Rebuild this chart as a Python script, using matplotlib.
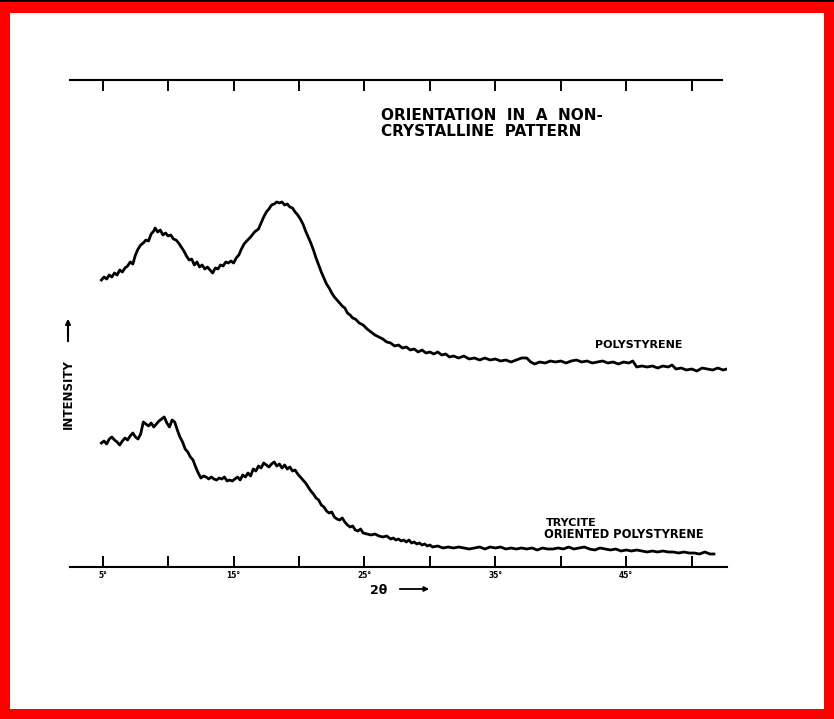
import matplotlib
matplotlib.use("Agg")
import matplotlib.pyplot as plt
from matplotlib.patches import Rectangle

# diffraction angle 2-theta (degrees) and intensity (arbitrary units)
ps_angle = [4.9, 5.1, 5.3, 5.5, 5.7, 5.9, 6.1, 6.3, 6.5, 6.7, 6.9, 7.1, 7.3, 7.5, 7.7, 7.9,
            8.1, 8.3, 8.5, 8.7, 8.9, 9.0, 9.2, 9.4, 9.6, 9.8, 10.0, 10.2, 10.4, 10.6, 10.8,
            11.0, 11.2, 11.4, 11.6, 11.8, 12.0, 12.2, 12.4, 12.6, 12.8, 13.0, 13.2, 13.4,
            13.6, 13.8, 14.0, 14.2, 14.4, 14.6, 14.8, 15.0, 15.2, 15.4, 15.6, 15.8, 16.0,
            16.3, 16.6, 16.9, 17.1, 17.3, 17.5, 17.7, 17.9, 18.1, 18.3, 18.5, 18.7, 18.9,
            19.1, 19.3, 19.5, 19.7, 19.9, 20.1, 20.3, 20.5, 20.7, 20.9, 21.1, 21.3, 21.5,
            21.7, 21.9, 22.1, 22.3, 22.5, 22.7, 22.9, 23.1, 23.3, 23.5, 23.7, 23.9, 24.1,
            24.3, 24.6, 24.9, 25.2, 25.5, 25.8, 26.1, 26.4, 26.7, 27.0, 27.3, 27.6, 27.9,
            28.2, 28.5, 28.8, 29.1, 29.4, 29.7, 30.0, 30.3, 30.6, 30.9, 31.2, 31.5, 31.8,
            32.2, 32.6, 33.0, 33.4, 33.8, 34.2, 34.6, 35.0, 35.4, 35.8, 36.2, 36.6, 37.0,
            37.4, 37.7, 38.0, 38.4, 38.8, 39.2, 39.6, 40.0, 40.4, 40.8, 41.2, 41.6, 42.0,
            42.4, 42.8, 43.2, 43.6, 44.0, 44.4, 44.8, 45.2, 45.5, 45.8, 46.2, 46.6, 47.0,
            47.4, 47.8, 48.2, 48.5, 48.8, 49.2, 49.6, 50.0, 50.4, 50.8, 51.2, 51.6, 52.0,
            52.4, 52.7]
ps_intensity = [287, 290, 288, 292, 290, 294, 292, 297, 295, 299, 301, 305, 303, 312, 318, 322,
                324, 327, 326, 333, 336, 339, 335, 337, 332, 334, 331, 332, 328, 327, 324,
                320, 316, 311, 307, 308, 302, 305, 300, 302, 298, 300, 297, 294,
                299, 298, 302, 301, 305, 304, 306, 304, 309, 312, 318, 323, 326,
                330, 335, 338, 344, 350, 355, 358, 362, 363, 365, 364, 365, 362,
                363, 360, 359, 355, 352, 348, 343, 336, 330, 324, 317, 309, 302,
                295, 289, 283, 279, 274, 270, 267, 264, 261, 259, 254, 252, 249,
                248, 244, 242, 238, 235, 232, 230, 228, 225, 224, 221, 222, 219,
                220, 217, 218, 215, 217, 214, 215, 213, 215, 212, 213, 210, 211,
                209, 211, 208, 209, 207, 209, 207, 208, 206, 207, 205, 207, 209,
                209, 205, 203, 205, 204, 206, 205, 206, 204, 206, 207, 205, 206,
                204, 205, 206, 204, 205, 203, 205, 204, 206, 200, 201, 200, 201,
                199, 201, 200, 202, 198, 199, 197, 198, 196, 199, 198, 197, 199,
                197, 198]

tr_angle = [4.9, 5.1, 5.3, 5.5, 5.7, 5.9, 6.1, 6.3, 6.5, 6.7, 6.9, 7.1, 7.3, 7.5, 7.7, 7.9,
            8.1, 8.3, 8.5, 8.7, 8.9, 9.1, 9.3, 9.5, 9.7, 9.9, 10.1, 10.3, 10.5, 10.7, 10.9,
            11.1, 11.3, 11.5, 11.7, 11.9, 12.1, 12.3, 12.5, 12.7, 12.9, 13.1, 13.3, 13.5,
            13.7, 13.9, 14.1, 14.3, 14.5, 14.7, 14.9, 15.1, 15.3, 15.5, 15.7, 15.9, 16.1,
            16.3, 16.5, 16.7, 16.9, 17.1, 17.3, 17.5, 17.7, 17.9, 18.1, 18.3, 18.5, 18.7,
            18.9, 19.1, 19.3, 19.5, 19.7, 19.9, 20.1, 20.3, 20.5, 20.7, 20.9, 21.1, 21.3,
            21.5, 21.7, 21.9, 22.1, 22.3, 22.5, 22.7, 22.9, 23.1, 23.3, 23.5, 23.7, 23.9,
            24.1, 24.3, 24.5, 24.7, 24.9, 25.2, 25.5, 25.8, 26.1, 26.4, 26.7, 27.0, 27.2,
            27.4, 27.6, 27.8, 28.0, 28.2, 28.4, 28.6, 28.8, 29.0, 29.2, 29.4, 29.6, 29.8,
            30.0, 30.2, 30.6, 31.0, 31.4, 31.8, 32.2, 32.6,
            33.0, 33.4, 33.8, 34.2, 34.6, 35.0, 35.4, 35.8, 36.2, 36.6, 37.0, 37.4, 37.8,
            38.2, 38.6, 39.0, 39.4, 39.8, 40.2, 40.6, 41.0, 41.4, 41.8, 42.2, 42.6, 43.0,
            43.4, 43.8, 44.2, 44.6, 45.0, 45.4, 45.8, 46.2, 46.6, 47.0, 47.4, 47.8, 48.2,
            48.6, 49.0, 49.4, 49.8, 50.2, 50.6, 51.0, 51.4, 51.7]
tr_intensity = [124, 126, 123, 128, 130, 127, 125, 122, 126, 129, 127, 131, 134, 130, 128, 133,
                145, 143, 141, 144, 140, 143, 146, 148, 150, 144, 140, 147, 145, 137, 130,
                125, 118, 115, 110, 107, 100, 94, 89, 91, 90, 88, 90, 88,
                87, 89, 88, 90, 86, 87, 86, 88, 90, 87, 92, 90, 94,
                91, 98, 96, 101, 99, 104, 102, 100, 103, 105, 101, 103, 99,
                102, 98, 100, 96, 97, 93, 90, 87, 84, 80, 76, 73, 69,
                67, 62, 60, 56, 54, 55, 50, 48, 47, 49, 45, 42, 40,
                41, 37, 36, 38, 34, 33, 32, 33, 31, 30, 31, 28, 29,
                27, 28, 26, 27, 25, 27, 24, 25, 23, 24, 22, 23, 21,
                22, 20, 21, 19, 20, 19, 20, 19,
                18, 19, 20, 18, 20, 19, 20, 18, 19, 18, 19, 18, 19,
                17, 19, 18, 18, 19, 18, 20, 18, 19, 20, 18, 17, 19,
                18, 17, 18, 16, 17, 16, 17, 16, 15, 16, 15, 16, 15,
                15, 14, 15, 14, 14, 13, 15, 13, 13]

tick_angles = [5, 10, 15, 20, 25, 30, 35, 40, 45, 50]
tick_labels = ["5°", "", "15°", "", "25°", "", "35°", "", "45°", ""]

fig = plt.figure(figsize=(8.34, 7.19), dpi=100)
ax = fig.add_axes([70 / 834, 152 / 719, 657 / 834, 487 / 719])

ax.plot(ps_angle, ps_intensity, color="black", lw=2.0)
ax.plot(tr_angle, tr_intensity, color="black", lw=2.0)

ax.set_xlim(2.5, 52.7)
ax.set_ylim(0, 487)
ax.spines["left"].set_visible(False)
ax.spines["right"].set_visible(False)
ax.spines["bottom"].set_linewidth(1.5)
ax.spines["top"].set_linewidth(1.5)
ax.spines["top"].set_bounds(2.5, 52.3)

ax.set_yticks([])
ax.set_xticks(tick_angles)
ax.set_xticklabels(tick_labels, fontsize=5.5, fontweight="bold")
ax.tick_params(axis="x", direction="in", length=8, width=1.4, pad=3,
               top=True, bottom=True)

# curve labels
fig.text(595 / 834, 1 - 345 / 719, "POLYSTYRENE", fontsize=8, fontweight="bold",
         ha="left", va="center")
fig.text(546 / 834, 1 - 523 / 719, "TRYCITE", fontsize=8, fontweight="bold",
         ha="left", va="center")
fig.text(544 / 834, 1 - 535 / 719, "ORIENTED POLYSTYRENE", fontsize=8.3, fontweight="bold",
         ha="left", va="center")

# title block
fig.text(381 / 834, 1 - 115 / 719, "ORIENTATION  IN  A  NON-", fontsize=11,
         fontweight="bold", ha="left", va="center")
fig.text(381 / 834, 1 - 132 / 719, "CRYSTALLINE  PATTERN", fontsize=11,
         fontweight="bold", ha="left", va="center")

# axis captions with arrows
fig.text(68 / 834, 1 - 394 / 719, "INTENSITY", fontsize=8.5, fontweight="bold",
         rotation=90, ha="center", va="center")
ax.annotate("", xy=(68, 719 - 316), xytext=(68, 719 - 344), xycoords="figure pixels",
            textcoords="figure pixels",
            arrowprops=dict(arrowstyle="-|>", lw=1.5, color="black", mutation_scale=7),
            annotation_clip=False)
fig.text(379 / 834, 1 - 590 / 719, "2θ", fontsize=9, fontweight="bold",
         ha="center", va="center")
ax.annotate("", xy=(432, 719 - 589), xytext=(397, 719 - 589), xycoords="figure pixels",
            textcoords="figure pixels",
            arrowprops=dict(arrowstyle="-|>", lw=1.3, color="black", mutation_scale=7),
            annotation_clip=False)

# red frame around the page
red = "#ff0000"
for x0, y0, w, h in [(0, 0, 10, 719), (824, 0, 10, 719), (0, 0, 834, 10), (0, 706, 834, 13)]:
    fig.add_artist(Rectangle((x0 / 834, y0 / 719), w / 834, h / 719,
                             transform=fig.transFigure, color=red, lw=0))
fig.add_artist(Rectangle((0, 1 - 1.5 / 719), 1, 1.5 / 719, transform=fig.transFigure,
                         color="black", lw=0))

fig.savefig("out.png", dpi=100)
